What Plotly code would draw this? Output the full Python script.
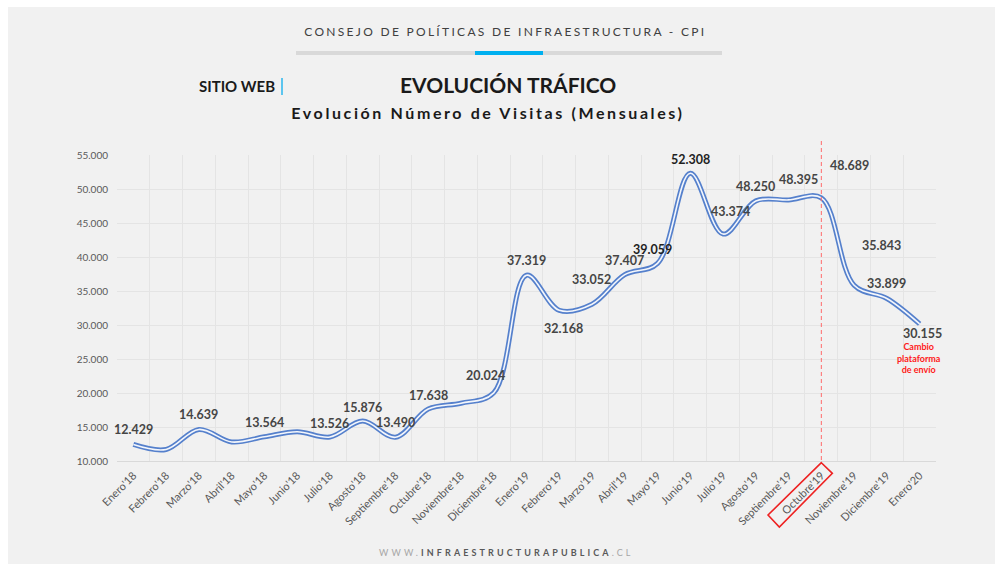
import plotly.graph_objects as go

# ---------------- data ----------------
months = ["Enero'18", "Febrero'18", "Marzo'18", "Abril'18", "Mayo'18", "Junio'18",
          "Julio'18", "Agosto'18", "Septiembre'18", "Octubre'18", "Noviembre'18",
          "Diciembre'18", "Enero'19", "Febrero'19", "Marzo'19", "Abril'19", "Mayo'19",
          "Junio'19", "Julio'19", "Agosto'19", "Septiembre'19", "Octubre'19",
          "Noviembre'19", "Diciembre'19", "Enero'20"]
visits = [12429, 11700, 14639, 12800, 13564, 14300, 13526, 15876, 13490, 17638, 18500,
          20024, 37319, 32168, 33052, 37407, 39059, 52308, 43374, 48250, 48395, 48689,
          35843, 33899, 30155]
labelled = [True, False, True, False, True, False, True, True, True, True, False,
            True, True, True, True, True, True, True, True, True, True, True,
            True, True, True]
y_ticks = [10000, 15000, 20000, 25000, 30000, 35000, 40000, 45000, 50000, 55000]
change_month = "Octubre'19"

# label placement (pixel offsets from the point)
label_dx = [0, 0, 0, 0, 0, 0, 0, 0, 0, 0, 0, -8, 0, 4, -1, 0, -5, 0, 7, 0, 10, 28, 27, 0, 3]
label_dy = [14.5, 0, 14.5, 0, 14, 0, 14, 14, 14.6, 14, 0, 17, 15, -18, 25, 14.6, 14, 14,
            23, 14, 20.6, 32, 40, 14.5, -10]

# ---------------- geometry (page pixels) ----------------
W, H = 995, 564
PL, PR, PT, PB = 117, 936, 155, 461          # plot area
ML, MR, MT, MB = PL, W - PR, PT, H - PB
PW, PH = PR - PL, PB - PT


def px(xp):
    return (xp - PL) / PW


def py(yp):
    return (PB - yp) / PH


FONT = "Lato"
fig = go.Figure()

fig.add_trace(go.Scatter(x=months, y=visits, mode="lines",
                         line=dict(color="#5580cc", width=5, shape="spline", smoothing=1.0),
                         hoverinfo="skip", showlegend=False))
fig.add_trace(go.Scatter(x=months, y=visits, mode="lines",
                         line=dict(color="#f3f6fc", width=1.6, shape="spline", smoothing=1.0),
                         hovertemplate="%{x}: %{y:,}<extra></extra>", showlegend=False))

annotations = []
for i, (m, v) in enumerate(zip(months, visits)):
    if not labelled[i]:
        continue
    dark = v in (52308, 39059)
    annotations.append(dict(
        x=m, y=v, xref="x", yref="y", text=f"{v:,}".replace(",", "."),
        showarrow=False, xshift=label_dx[i], yshift=label_dy[i],
        xanchor="center", yanchor="middle",
        font=dict(family=FONT, size=12.5, color="#1f1f1f" if dark else "#454545", weight="bold")))


def page_text(x, y, text, size, color="#1a1a1a", family=FONT):
    return dict(x=px(x), y=py(y), xref="paper", yref="paper", showarrow=False,
                xanchor="center", yanchor="middle", text=text,
                font=dict(family=family, size=size, color=color))


annotations += [
    page_text(505, 31, "CONSEJO DE POLÍTICAS DE INFRAESTRUCTURA - CPI", 12, "#404040"),
    page_text(237, 86, "<b>SITIO WEB</b>", 15),
    page_text(508, 85, "<b>EVOLUCIÓN TRÁFICO</b>", 21),
    page_text(488, 112, "<b>Evolución Número de Visitas (Mensuales)</b>", 16),
    page_text(506, 552,
              "<span style='color:#a6a6a6'>WWW.</span><b>INFRAESTRUCTURAPUBLICA</b>"
              "<span style='color:#a6a6a6'>.CL</span>", 9, "#595959"),
    dict(x=months[-1], y=py(358), xref="x", yref="paper", showarrow=False,
         xanchor="center", yanchor="middle",
         text="<b>Cambio<br>plataforma<br>de envío</b>", xshift=-1,
         font=dict(family=FONT, size=9, color="#ff1a1a")),
]

shapes = [
    # white outer border (left / top)
    dict(type="rect", xref="paper", yref="paper", x0=px(0), x1=px(8), y0=py(H), y1=py(0),
         fillcolor="white", line=dict(width=0), layer="below"),
    dict(type="rect", xref="paper", yref="paper", x0=px(0), x1=px(W), y0=py(7), y1=py(0),
         fillcolor="white", line=dict(width=0), layer="below"),
    # header bar
    dict(type="rect", xref="paper", yref="paper", x0=px(296), x1=px(722), y0=py(55), y1=py(51),
         fillcolor="#d9d9d9", line=dict(width=0)),
    dict(type="rect", xref="paper", yref="paper", x0=px(475), x1=px(543), y0=py(55), y1=py(51),
         fillcolor="#00b0f0", line=dict(width=0)),
    # blue separator after SITIO WEB
    dict(type="line", xref="paper", yref="paper", x0=px(282), x1=px(282), y0=py(95), y1=py(78),
         line=dict(color="#5bc5ef", width=2)),
    # change marker
    dict(type="line", xref="x", yref="paper", x0=change_month, x1=change_month,
         y0=py(141), y1=py(462), layer="above",
         line=dict(color="#ff6a6a", width=1, dash="4px,3px")),
]

# rotated box around the change-month tick label
ci = months.index(change_month)
cx = PL + (ci + 0.5) * PW / len(months)
corners = [(cx + 0, PB + 1.7), (cx + 11, PB + 12.3), (cx - 42, PB + 66), (cx - 53.3, PB + 54)]
path = "M " + " L ".join(f"{px(a):.5f},{py(b):.5f}" for a, b in corners) + " Z"
shapes.append(dict(type="path", xref="paper", yref="paper", path=path,
                   line=dict(color="#ee2222", width=1.6), fillcolor="rgba(0,0,0,0)"))

fig.update_layout(
    width=W, height=H, autosize=False,
    margin=dict(l=ML, r=MR, t=MT, b=MB, autoexpand=False),
    paper_bgcolor="#f1f1f1", plot_bgcolor="rgba(0,0,0,0)",
    separators=",.",
    annotations=annotations, shapes=shapes,
    font=dict(family=FONT),
    xaxis=dict(type="category", range=[-0.5, len(months) - 0.5], tickson="boundaries",
               showgrid=True, gridcolor="#e4e4e4",
               gridwidth=1, ticks="", tickangle=-45, showline=True, linecolor="#d9d9d9",
               ticklabelstandoff=3,
               tickfont=dict(family=FONT, size=11, color="#595959"), fixedrange=True),
    yaxis=dict(range=[10000, 55000], tickvals=y_ticks, tickformat=",d", showgrid=True,
               gridcolor="#e4e4e4", zeroline=False, showline=False, ticks="",
               ticklabelstandoff=8,
               tickfont=dict(family=FONT, size=10, color="#595959"), fixedrange=True),
)

post = """
document.documentElement.style.overflow = 'hidden';
document.body.style.overflow = 'hidden';
document.body.style.margin = '0';
var gd = document.getElementById('{plot_id}');
var sp = [['CONSEJO', '2.3px'], ['Evolución Número', '2.6px'], ['WWW', '3.1px']];
gd.querySelectorAll('text.annotation-text').forEach(function(t){
  var s = t.textContent;
  sp.forEach(function(p){ if (s.indexOf(p[0]) === 0) { t.style.letterSpacing = p[1]; } });
});
"""

fig.write_html("out.html", post_script=post, config={"displayModeBar": False, "responsive": False})
